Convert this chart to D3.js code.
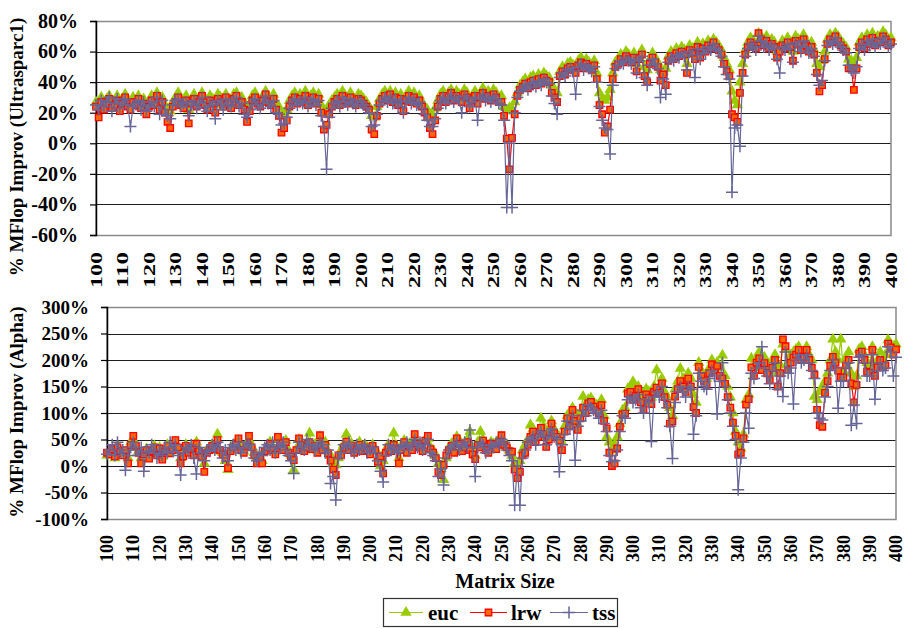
<!DOCTYPE html>
<html>
<head>
<meta charset="utf-8">
<script src="https://cdn.jsdelivr.net/npm/d3@7"></script>
<style>
  body { margin: 0; background: #fff; }
  svg { display: block; }
</style>
</head>
<body>
<svg id="chart" width="905" height="629"></svg>
<script>
// Matrix sizes 100..400 (one category per size) and the labelled sizes
const sizes = d3.range(100, 401);
const sizeTicks = d3.range(100, 401, 10);

const usparcTicks = [-60, -40, -20, 0, 20, 40, 60, 80];
const alphaTicks = [-100, -50, 0, 50, 100, 150, 200, 250, 300];

const seriesNames = ["euc", "lrw", "tss"];

// % MFlop improvement on the Ultrasparc1, sizes 100..400
const usparcEuc = [
  27, 25, 30, 26, 29, 31, 27, 28, 31, 25,
  29, 32, 28, 26, 30, 28, 31, 27, 29, 24,
  27, 31, 29, 33, 26, 30, 25, 22, 21, 27,
  30, 33, 28, 27, 31, 22, 29, 32, 27, 30,
  33, 28, 26, 31, 29, 25, 32, 30, 27, 32,
  29, 27, 32, 33, 28, 30, 26, 22, 26, 31,
  33, 29, 27, 31, 34, 30, 28, 32, 26, 24,
  18, 20, 22, 28, 31, 33, 29, 32, 30, 34,
  28, 31, 33, 29, 32, 25, 20, 22, 25, 28,
  30, 32, 28, 34, 31, 29, 33, 30, 28, 32,
  31, 29, 27, 24, 18, 17, 24, 29, 32, 34,
  31, 34, 30, 33, 28, 32, 27, 31, 34, 30,
  33, 29, 31, 27, 24, 22, 19, 18, 23, 28,
  32, 34, 30, 33, 35, 31, 34, 32, 30, 35,
  33, 28, 31, 34, 29, 33, 36, 32, 34, 31,
  35, 33, 30, 31, 24, 21, 23, 22, 27, 33,
  38, 40, 42, 39, 43, 44, 41, 45, 42, 46,
  44, 43, 38, 35, 33, 47, 50, 48, 52, 53,
  51, 49, 54, 56, 52, 55, 53, 51, 54, 46,
  33, 29, 28, 30, 35, 46, 53, 55, 58, 56,
  60, 58, 56, 59, 52, 58, 61, 50, 48, 55,
  59, 56, 53, 48, 47, 49, 57, 60, 58, 62,
  60, 63, 61, 52, 64, 62, 58, 66, 59, 65,
  63, 67, 65, 68, 66, 64, 61, 56, 52, 48,
  34, 28, 25, 40, 52, 61, 66, 69, 67, 65,
  72, 70, 67, 70, 65, 68, 66, 60, 63, 67,
  65, 69, 66, 60, 70, 68, 64, 71, 67, 63,
  66, 61, 52, 50, 54, 60, 68, 71, 69, 72,
  70, 67, 65, 63, 55, 54, 52, 56, 66, 69,
  65, 71, 68, 72, 67, 70, 69, 73, 71, 67,
  69
];
const usparcLrw = [
  24, 17, 27, 22, 26, 29, 23, 25, 28, 21,
  26, 30, 24, 22, 27, 25, 29, 23, 26, 19,
  24, 28, 25, 31, 22, 27, 20, 14, 10, 24,
  27, 30, 25, 23, 28, 13, 26, 29, 24, 27,
  31, 25, 22, 28, 26, 20, 29, 27, 24, 30,
  26, 23, 29, 31, 25, 27, 22, 14, 21, 28,
  30, 26, 24, 28, 32, 27, 25, 29, 22, 18,
  7, 10, 15, 24, 28, 30, 26, 29, 27, 31,
  25, 28, 30, 26, 29, 20, 9, 12, 19, 24,
  27, 29, 25, 31, 28, 26, 30, 27, 25, 29,
  28, 26, 24, 22, 9, 6, 18, 26, 29, 31,
  28, 32, 27, 30, 25, 29, 21, 28, 31, 27,
  30, 26, 28, 24, 20, 17, 10, 6, 15, 24,
  29, 31, 27, 30, 33, 28, 31, 29, 27, 32,
  30, 23, 28, 31, 26, 30, 33, 29, 31, 28,
  32, 30, 27, 27, 18, 3, -17, 3.5, 19, 31,
  35, 37, 39, 36, 40, 41, 38, 42, 39, 43,
  41, 40, 33, 30, 27, 44, 47, 45, 49, 50,
  48, 46, 51, 53, 49, 52, 50, 48, 51, 42,
  25, 19, 7, 11, 22, 42, 50, 52, 55, 53,
  57, 55, 53, 56, 47, 55, 58, 44, 40, 52,
  56, 53, 50, 41, 45, 38, 54, 57, 55, 59,
  57, 60, 58, 46, 61, 59, 55, 63, 56, 62,
  60, 64, 62, 66, 63, 61, 58, 52, 47, 44,
  19, 17, 14, 33, 46, 58, 63, 66, 64, 62,
  72, 68, 64, 67, 62, 65, 63, 56, 60, 64,
  62, 66, 63, 54, 67, 65, 61, 68, 64, 60,
  63, 58, 46, 34, 38, 55, 65, 68, 66, 70,
  67, 64, 62, 60, 49, 49, 35, 49, 63, 66,
  62, 68, 65, 69, 64, 67, 66, 70, 68, 64,
  66
];
const usparcTss = [
  25, 22, 28, 24, 27, 30, 21, 26, 29, 23,
  27, 29, 25, 11, 24, 26, 28, 22, 27, 21,
  25, 27, 24, 30, 19, 28, 22, 18, 16, 25,
  28, 29, 24, 26, 27, 18, 25, 28, 23, 26,
  30, 24, 21, 27, 25, 16, 28, 26, 22, 29,
  25, 24, 28, 30, 24, 26, 19, 17, 22, 27,
  29, 25, 23, 27, 31, 26, 24, 28, 20, 19,
  12, 13, 17, 23, 27, 29, 25, 28, 26, 30,
  24, 27, 29, 25, 28, 18, 11, -17, 17, 23,
  26, 28, 24, 30, 27, 25, 29, 26, 24, 28,
  27, 25, 23, 20, 11, 12, 19, 25, 28, 30,
  27, 31, 26, 29, 24, 28, 20, 27, 30, 26,
  29, 25, 27, 23, 19, 15, 11, 11, 16, 23,
  28, 30, 26, 29, 32, 27, 30, 28, 20, 31,
  29, 24, 27, 30, 15, 29, 32, 28, 30, 27,
  31, 29, 26, 25, 15, -42, 0, -42, 20, 30,
  34, 36, 38, 35, 39, 40, 37, 41, 38, 42,
  40, 39, 31, 26, 19, 43, 46, 44, 48, 49,
  47, 32, 50, 52, 48, 51, 49, 47, 50, 40,
  24, 15, 10, 9, -7, 38, 49, 51, 54, 52,
  56, 54, 52, 55, 46, 54, 57, 43, 38, 51,
  55, 52, 49, 30, 42, 32, 53, 56, 54, 58,
  56, 59, 57, 48, 60, 58, 43, 62, 55, 61,
  59, 63, 61, 65, 62, 60, 57, 50, 45, 42,
  -32, 10, 12, -2, 44, 57, 62, 65, 63, 61,
  70, 67, 63, 66, 61, 64, 62, 55, 46, 63,
  61, 65, 62, 53, 66, 64, 60, 67, 63, 59,
  62, 57, 45, 38, 41, 54, 64, 67, 65, 69,
  66, 63, 61, 59, 51, 48, 46, 50, 62, 65,
  61, 67, 64, 68, 63, 66, 65, 69, 67, 63,
  65
];

// % MFlop improvement on the Alpha, sizes 100..400
const alphaEuc = [
  20, 25, 30, 15, 38, 30, 25, 22, 15, 45,
  50, 35, 28, 15, 25, 32, 20, 30, 38, 25,
  35, 18, 30, 40, 28, 35, 45, 30, 15, 25,
  40, 28, 35, 25, 45, 30, 20, 5, 30, 35,
  40, 35, 60, 28, 25, 10, -7, 30, 40, 45,
  48, 35, 28, 40, 50, 38, 25, 15, 20, 10,
  30, 38, 45, 35, 28, 50, 42, 35, 48, 30,
  20, -7, 32, 50, 45, 30, 40, 62, 35, 40,
  30, 55, 35, 45, 28, 20, 5, 2, 15, 30,
  40, 60, 35, 42, 30, 38, 45, 32, 40, 35,
  28, 40, 32, 15, 0, 10, 30, 40, 30, 62,
  38, 15, 35, 48, 30, 42, 35, 55, 45, 40,
  32, 50, 52, 35, 30, 20, 5, -5, -26, 15,
  35, 42, 30, 55, 48, 35, 40, 50, 65, 30,
  20, 45, 65, 50, 35, 30, 45, 42, 38, 50,
  55, 45, 38, 30, 20, 5, 0, 10, 30, 40,
  50, 77, 70, 60, 65, 90, 75, 55, 65, 85,
  70, 60, 55, 45, 75, 95, 85, 110, 100, 80,
  100, 131, 115, 125, 128, 120, 115, 110, 125, 95,
  55, 45, 30, 40, 55, 80, 105, 110, 145, 150,
  159, 140, 150, 130, 120, 145, 140, 130, 150, 181,
  150, 165, 140, 130, 110, 95, 145, 160, 184, 165,
  155, 175, 165, 135, 120, 195, 180, 170, 165, 185,
  200, 190, 195, 185, 209, 170, 150, 130, 100, 65,
  45, 33, 60, 125, 135, 203, 185, 205, 215, 195,
  205, 190, 180, 200, 210, 175, 190, 230, 220, 195,
  210, 215, 220, 225, 210, 215, 225, 210, 200, 131,
  125, 140, 150, 160, 175, 200, 239, 215, 200, 239,
  180, 205, 215, 175, 150, 170, 220, 225, 210, 195,
  190, 225, 185, 200, 215, 200, 210, 238, 230, 225,
  230
];
const alphaLrw = [
  25, 22, 32, 18, 35, 28, 20, 30, 5, 40,
  57, 38, 25, 5, 22, 30, 14, 28, 35, 20,
  33, 12, 28, 38, 24, 30, 49, 35, 5, 18,
  38, 25, 32, 20, 42, 28, 17, -11, 25, 30,
  38, 32, 49, 30, 22, 15, -4, 28, 35, 42,
  52, 30, 25, 38, 57, 35, 20, 5, 15, 5,
  28, 35, 42, 30, 22, 55, 38, 30, 45, 25,
  18, 11, 30, 52, 40, 28, 35, 45, 32, 38,
  25, 58, 30, 40, 24, 10, -7, -17, 20, 20,
  35, 46, 30, 38, 25, 32, 40, 28, 35, 30,
  22, 38, 30, 8, 18, -14, 25, 35, 28, 40,
  32, 5, 30, 45, 25, 38, 30, 60, 42, 35,
  28, 48, 57, 32, 25, 15, -11, -17, 2, 20,
  30, 38, 25, 52, 42, 28, 35, 45, 30, 22,
  13, 40, 35, 48, 30, 25, 42, 38, 32, 45,
  58, 40, 35, 28, 27, -7, -23, -11, 20, 25,
  40, 55, 65, 45, 55, 72, 60, 36, 50, 80,
  62, 55, 48, 30, 65, 90, 75, 106, 85, 68,
  90, 110, 100, 118, 121, 112, 105, 99, 115, 85,
  71, 25, 0, 5, 33, 74, 98, 99, 137, 140,
  125, 132, 145, 120, 107, 135, 128, 117, 140, 148,
  138, 156, 130, 116, 80, 84, 131, 145, 160, 150,
  140, 165, 150, 111, 100, 187, 170, 160, 153, 175,
  192, 180, 189, 170, 165, 155, 130, 110, 82, 57,
  22, 25, 52, 116, 126, 186, 170, 195, 203, 181,
  194, 175, 162, 185, 200, 150, 175, 239, 226, 181,
  195, 205, 210, 219, 200, 206, 219, 200, 185, 172,
  106, 77, 74, 138, 160, 189, 206, 195, 180, 167,
  167, 190, 200, 156, 120, 153, 212, 216, 200, 178,
  176, 219, 170, 186, 200, 186, 190, 231, 224, 210,
  220
];
const alphaTss = [
  22, 30, 40, 20, 45, 25, 30, -8, 20, 35,
  45, 30, 20, 35, -10, 28, 25, 40, 30, 15,
  30, 20, 35, 25, 45, 28, 40, 20, -17, 25,
  35, 30, 40, 15, -15, 35, 25, 10, 30, 28,
  40, 30, 45, 35, 15, 30, 10, 35, 40, 30,
  45, 25, 35, 45, 40, 30, 15, 10, 25, 20,
  35, 40, 30, 45, 25, 40, 35, 45, 30, 20,
  10, -14, 25, 45, 35, 30, 50, 40, 38, 30,
  35, 45, 40, 25, 30, -33, -20, -64, 15, 25,
  40, 35, 45, 30, 25, 40, 30, 35, 40, 25,
  30, 35, 25, 10, -10, -30, 20, 40, 30, 35,
  25, 30, 40, 35, 45, 30, 40, 50, 35, 45,
  30, 40, 50, 25, 20, 10, -20, -5, -36, 15,
  30, 35, 40, 45, 30, 40, 45, 35, 68, 35,
  -20, 35, 45, 40, 25, 30, 40, 35, 45, 40,
  50, 45, 30, 20, 10, -74, 0, -74, 15, 30,
  45, 50, 55, 40, 60, 65, 55, 40, 60, 70,
  55, 50, -11, 40, 60, 85, 70, 95, 11, 75,
  85, 105, 95, 115, 110, 105, 100, 90, 105, 80,
  65, 20, 8, 10, 30, 65, 95, 90, 125, 130,
  120, 125, 135, 110, 100, 125, 120, 46, 130, 140,
  130, 150, 125, 110, 75, 14, 120, 140, 150, 140,
  130, 150, 145, 60, 95, 175, 160, 150, 145, 165,
  180, 170, 98, 160, 195, 150, 125, 100, 75, 50,
  -45, 15, 45, 100, 71, 175, 165, 185, 195, 225,
  185, 170, 155, 180, 195, 145, 170, 131, 215, 175,
  185, 117, 200, 210, 195, 200, 210, 195, 180, 165,
  100, 90, 87, 130, 150, 180, 200, 185, 109, 160,
  160, 185, 195, 77, 115, 80, 205, 210, 195, 170,
  170, 210, 126, 180, 195, 180, 185, 225, 215, 170,
  205
];

const FONT = '"Liberation Serif", "Times New Roman", serif';
const svg = d3.select("#chart");

// Series appearance: euc green triangles, lrw orange squares, tss slate plus signs
const styles = {
  euc: { line: "#99cc00", width: 1.2 },
  lrw: { line: "#ff0000", width: 1.2 },
  tss: { line: "#666699", width: 1.2 }
};
const triPath = d3.symbol(d3.symbolTriangle, 56)();
const sqPath = d3.symbol(d3.symbolSquare, 42)();
const plusPath = "M-6,0H6M0,-6V6";

function drawMarker(sel, name) {
  if (name === "euc") {
    sel.attr("d", triPath).attr("fill", "#99cc00").attr("stroke", "none");
  } else if (name === "lrw") {
    sel.attr("d", sqPath).attr("fill", "#ff6600").attr("stroke", "#ff0000").attr("stroke-width", 1.3);
  } else {
    sel.attr("d", plusPath).attr("fill", "none").attr("stroke", "#666699").attr("stroke-width", 1.5);
  }
}

function drawPanel(cfg) {
  const x = d3.scalePoint().domain(sizes).range([cfg.left, cfg.right]).padding(0);
  const y = d3.scaleLinear().domain([cfg.ticks[0], cfg.ticks[cfg.ticks.length - 1]])
    .range([cfg.bottom, cfg.top]);
  const g = svg.append("g");

  // horizontal gridlines
  g.selectAll("line.grid").data(cfg.ticks).join("line")
    .attr("class", "grid")
    .attr("x1", cfg.left).attr("x2", cfg.right)
    .attr("y1", d => Math.round(y(d)) + 0.5).attr("y2", d => Math.round(y(d)) + 0.5)
    .attr("stroke", "#1e1e1e").attr("stroke-width", 1);

  // plot area frame
  g.append("rect")
    .attr("x", cfg.left).attr("y", Math.round(cfg.top) + 0.5)
    .attr("width", cfg.right - cfg.left).attr("height", Math.round(cfg.bottom) - Math.round(cfg.top))
    .attr("fill", "none").attr("stroke", "#8a8a8a").attr("stroke-width", 1.5);

  // value axis
  const ax = g.append("g")
    .attr("transform", `translate(${cfg.left},0)`)
    .call(d3.axisLeft(y).tickValues(cfg.ticks).tickSize(6).tickPadding(12)
      .tickFormat(d => d + "%"));
  ax.select(".domain").attr("stroke", "#000").attr("stroke-width", 1.5);
  ax.selectAll(".tick line").attr("stroke", "#000").attr("stroke-width", 1.2);
  ax.selectAll(".tick text")
    .attr("fill", "#000")
    .style("font-family", FONT).style("font-weight", "bold").style("font-size", cfg.yFont + "px");

  // category labels, rotated
  g.selectAll("text.xlab").data(sizeTicks).join("text")
    .attr("class", "xlab")
    .attr("transform", d => `translate(${x(d)},${cfg.bottom + cfg.labelGap}) rotate(-90)`)
    .attr("text-anchor", "end")
    .attr("dy", "0.34em")
    .attr("textLength", cfg.labelLen)
    .attr("lengthAdjust", "spacingAndGlyphs")
    .style("font-family", FONT).style("font-weight", "bold").style("font-size", cfg.xFont + "px")
    .text(d => d);

  // axis title
  g.append("text")
    .attr("transform", `translate(${cfg.titleX},${cfg.titleY}) rotate(-90)`)
    .attr("text-anchor", "middle").attr("dy", "0.35em")
    .style("font-family", FONT).style("font-weight", "bold").style("font-size", "19px")
    .text(cfg.title);

  // series: line then markers, in legend order
  cfg.series.forEach((vals, k) => {
    const name = seriesNames[k];
    const line = d3.line().x((d, i) => x(sizes[i])).y(d => y(d));
    g.append("path").datum(vals)
      .attr("fill", "none").attr("stroke", styles[name].line)
      .attr("stroke-width", styles[name].width).attr("stroke-linejoin", "round")
      .attr("d", line);
    g.append("g").selectAll("path").data(vals).join("path")
      .attr("transform", (d, i) => `translate(${x(sizes[i])},${y(d)})`)
      .call(drawMarker, name);
  });
}

drawPanel({
  left: 96, right: 891, top: 21, bottom: 235,
  ticks: usparcTicks, series: [usparcEuc, usparcLrw, usparcTss],
  yFont: 20, xFont: 17, labelGap: 17, labelLen: 36,
  title: "% MFlop Improv (Ultrasparc1)", titleX: 16, titleY: 147
});
drawPanel({
  left: 107, right: 896, top: 307, bottom: 519,
  ticks: alphaTicks, series: [alphaEuc, alphaLrw, alphaTss],
  yFont: 19, xFont: 18, labelGap: 16, labelLen: 27,
  title: "% MFlop Improv (Alpha)", titleX: 16, titleY: 412
});

// category axis title
svg.append("text")
  .attr("x", 505).attr("y", 588)
  .attr("text-anchor", "middle")
  .style("font-family", FONT).style("font-weight", "bold").style("font-size", "20px")
  .text("Matrix Size");

// legend
const lg = svg.append("g");
lg.append("rect").attr("x", 383.5).attr("y", 598.5).attr("width", 234).attr("height", 28)
  .attr("fill", "#fff").attr("stroke", "#333").attr("stroke-width", 1.2);
const legendItems = [
  { name: "euc", x0: 389, x1: 423, tx: 428 },
  { name: "lrw", x0: 470, x1: 507, tx: 511 },
  { name: "tss", x0: 550, x1: 588, tx: 592 }
];
legendItems.forEach(it => {
  lg.append("line").attr("x1", it.x0).attr("x2", it.x1).attr("y1", 612.5).attr("y2", 612.5)
    .attr("stroke", styles[it.name].line).attr("stroke-width", 1.2);
  lg.append("path").attr("transform", `translate(${(it.x0 + it.x1) / 2},612.5)`)
    .call(drawMarker, it.name);
  lg.append("text").attr("x", it.tx).attr("y", 620)
    .style("font-family", FONT).style("font-weight", "bold").style("font-size", "21px")
    .text(it.name);
});
</script>
</body>
</html>
